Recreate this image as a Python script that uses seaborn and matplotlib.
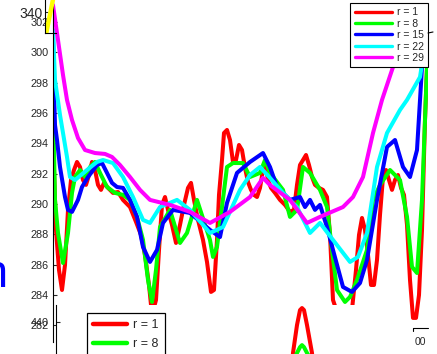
import matplotlib
matplotlib.use("Agg")
import matplotlib.pyplot as plt
import seaborn as sns
from matplotlib.lines import Line2D

sns.set_style("white")
plt.rcParams['font.family'] = ['Liberation Sans', 'DejaVu Sans']

# ---- profile data (position along scan, value) ----
labels = ["r = 1", "r = 8", "r = 15", "r = 22", "r = 29"]
colors = ["#ff0000", "#00ff00", "#0000ff", "#00ffff", "#ff00ff"]

r1_x = [0, 3, 6, 9, 12, 15, 18, 21, 24, 27, 30, 33, 36, 39, 42, 45, 48, 51, 55, 60,
        65, 70, 77, 83, 88, 92, 96, 99, 103, 106, 109, 112, 115, 119, 123, 127, 131, 135, 138, 141,
        145, 150, 154, 158, 161, 164, 166, 169, 171, 174, 177, 180, 183, 186, 189, 192, 195, 198, 201, 204,
        207, 210, 212, 215, 218, 222, 227, 232, 237, 241, 244, 247, 250, 253, 256, 259, 262, 266, 270, 274,
        277, 280, 285, 292, 299, 303, 306, 309, 312, 315, 318, 321, 324, 327, 330, 333, 336, 339, 342, 345,
        348, 351, 354, 357, 360, 363, 366, 369, 372, 375]
r1_y = [294.22, 288.29, 285.65, 284.33, 285.98, 289.61, 291.58, 292.24, 292.77, 292.44,
        291.58, 291.26, 291.91, 292.77, 292.24, 291.26, 290.93, 291.39, 291.06, 290.73,
        290.79, 290.27, 289.80, 288.82, 287.96, 286.64, 284.66, 282.69, 283.67, 286.97,
        289.94, 290.46, 289.61, 288.62, 287.43, 288.62, 289.94, 291.06, 291.39, 290.27,
        288.95, 287.63, 286.18, 284.20, 284.33, 287.63, 290.60, 292.90, 294.68, 294.88,
        294.22, 292.77, 292.90, 293.89, 293.56, 292.38, 291.45, 290.93, 290.60, 290.46,
        291.06, 292.24, 292.71, 291.58, 291.06, 290.73, 290.27, 289.94, 289.48, 289.61,
        291.26, 292.57, 292.90, 293.23, 292.57, 291.78, 291.26, 291.06, 290.93, 290.46,
        287.96, 283.67, 282.69, 282.36, 283.02, 285.65, 287.96, 289.08, 288.29, 286.64,
        284.66, 284.66, 286.31, 289.28, 291.78, 292.24, 291.58, 290.93, 291.58, 291.91,
        291.06, 290.60, 288.62, 284.99, 282.49, 282.49, 284.00, 288.29, 295.54, 300.81]

r8_x = [0, 1, 2, 5, 10, 15, 19, 22, 27, 32, 37, 42, 47, 54, 62, 70, 77, 84, 90, 95,
        99, 103, 107, 117, 127, 134, 144, 157, 160, 164, 174, 180, 190, 197, 207, 212, 217, 230, 237, 244,
        250, 257, 267, 274, 279, 284, 292, 297, 304, 314, 320, 327, 337, 347, 354, 359, 364, 369, 374, 375]
r8_y = [296.40, 293.56, 290.27, 288.09, 286.11, 288.09, 290.73, 291.78, 292.24, 291.78,
        292.44, 292.77, 292.05, 291.12, 290.73, 290.60, 290.27, 289.15, 287.63, 284.99,
        283.54, 285.65, 288.48, 289.61, 287.43, 288.09, 290.27, 287.63, 286.51, 287.17,
        292.44, 292.70, 292.70, 291.78, 292.05, 292.90, 292.05, 290.93, 289.15, 289.61,
        292.44, 292.05, 290.93, 289.80, 286.97, 284.33, 283.54, 283.87, 284.99, 286.97,
        290.27, 291.25, 292.24, 291.58, 289.15, 285.85, 285.45, 290.27, 299.03, 301.14]

r15_x = [0, 1, 2, 4, 7, 12, 15, 19, 25, 29, 35, 44, 49, 54, 59, 64, 70, 77, 84, 90,
         97, 104, 110, 120, 137, 157, 167, 174, 184, 197, 210, 217, 224, 237, 247, 252, 257, 262, 267, 274,
         280, 290, 299, 307, 314, 324, 334, 342, 350, 357, 364, 369, 374]
r15_y = [301.47, 297.52, 295.21, 294.22, 292.44, 290.46, 289.61, 289.48, 290.27, 291.12,
         291.78, 292.57, 292.70, 292.05, 291.39, 291.12, 291.06, 290.27, 289.15, 287.17,
         286.18, 286.97, 288.75, 289.61, 289.41, 288.29, 287.82, 290.07, 292.05, 292.77,
         293.36, 292.44, 291.12, 290.27, 290.46, 289.80, 290.27, 289.61, 289.94, 288.48,
         286.97, 284.53, 284.20, 284.79, 286.31, 290.27, 293.76, 294.22, 292.44, 291.78,
         293.56, 299.03, 301.67]

r22_x = [0, 2, 7, 9, 14, 17, 22, 34, 44, 50, 60, 70, 80, 90, 97, 107, 124, 137, 157, 170,
         187, 197, 207, 217, 230, 244, 257, 267, 280, 297, 305, 314, 324, 334, 347, 354, 367, 372]
r22_y = [301.47, 298.18, 295.87, 295.08, 293.10, 291.78, 291.58, 292.24, 292.77, 292.90,
         292.70, 291.78, 290.46, 288.95, 288.75, 289.80, 290.27, 289.61, 288.09, 288.48,
         290.93, 291.91, 292.44, 291.72, 290.73, 289.80, 288.09, 288.75, 287.63, 286.18,
         286.51, 288.09, 292.44, 294.68, 296.20, 296.86, 298.37, 300.48]

r29_x = [0, 5, 10, 14, 19, 25, 32, 42, 52, 59, 67, 77, 87, 97, 117, 137, 157, 177, 197, 210,
         217, 237, 254, 267, 290, 300, 310, 320, 329, 340, 357, 374]
r29_y = [303.12, 300.81, 298.51, 296.86, 295.54, 294.35, 293.56, 293.36, 293.30, 293.10,
         292.57, 291.78, 290.93, 290.27, 289.94, 289.48, 288.75, 289.48, 290.46, 291.72,
         291.25, 290.27, 288.75, 289.15, 289.80, 290.46, 291.78, 294.68, 296.86, 299.03,
         300.15, 301.27]

y_ticks = [282, 284, 286, 288, 290, 292, 294, 296, 298, 300, 302]

# lower panel: single peak for r = 1 and r = 8
peak_x = [236, 240, 244, 247, 249, 251, 254, 259, 263]
peak_r1 = [418.0, 430.9, 439.1, 443.5, 444.1, 443.5, 439.1, 430.9, 418.0]
peak_r8 = [424.0, 428.5, 430.9, 432.6, 433.2, 432.6, 430.9, 428.5, 424.0]
peak_ticks = [440]

# top-left inset
inset_x = [1.5, 8.5]
inset_y = [330.5, 347.5]
inset_ticks = [340]

W, H = 437, 354
fig = plt.figure(figsize=(W / 100, H / 100), dpi=100)


def px_axes(x0, y0, x1, y1, **kw):
    return fig.add_axes([x0 / W, 1 - y1 / H, (x1 - x0) / W, (y1 - y0) / H], **kw)


def strip(ax, keep=("left",)):
    for side in ("left", "right", "top", "bottom"):
        ax.spines[side].set_visible(side in keep)
        ax.spines[side].set_color("black")
        ax.spines[side].set_linewidth(0.8)


# ---- main panel ----
ax = px_axes(53, 0, 428, 342)
ax.set_zorder(1)
series = [(r1_x, r1_y), (r8_x, r8_y), (r15_x, r15_y), (r22_x, r22_y), (r29_x, r29_y)]
for (xs, ys), col, lab in zip(series, colors, labels):
    sns.lineplot(x=xs, y=ys, ax=ax, color=col, lw=2.9, sort=False,
                 estimator=None, legend=False)
ax.set_xlim(0, 375)
ax.set_ylim(280.9, 303.45)
ax.set_xticks([])
ax.set_yticks(y_ticks)
ax.set_yticklabels([str(t) for t in y_ticks])
ax.tick_params(axis="y", direction="in", length=3, width=0.8, labelsize=7.8, pad=3, left=True)
ax.set_xlabel("")
ax.set_ylabel("")
strip(ax, ("left",))
ax.set_facecolor("none")

handles = [Line2D([], [], color=c, lw=2.4) for c in colors]
leg = ax.legend(handles, labels, loc="upper right",
                bbox_to_anchor=(428 / W, 1 - 3 / H), bbox_transform=fig.transFigure,
                fontsize=7.5, frameon=True, fancybox=False, framealpha=1,
                edgecolor="black", handlelength=3.6, handletextpad=0.45,
                labelspacing=0.14, borderpad=0.4, borderaxespad=0)
leg.get_frame().set_linewidth(0.8)

# ---- lower panel ----
ax2 = px_axes(56, 305, 408, 458)
ax2.set_zorder(2)
ax2.set_facecolor("white")
sns.lineplot(x=peak_x, y=peak_r1, ax=ax2, color=colors[0], lw=2.9, sort=False,
             estimator=None, legend=False)
sns.lineplot(x=peak_x, y=peak_r8, ax=ax2, color=colors[1], lw=2.9, sort=False,
             estimator=None, legend=False)
ax2.set_xlim(3, 355)
ax2.set_ylim(400, 445)
ax2.set_xticks([])
ax2.set_yticks(peak_ticks)
ax2.set_yticklabels([str(t) for t in peak_ticks])
ax2.tick_params(axis="y", direction="in", length=3, width=0.8, labelsize=7.8, pad=5, left=True)
ax2.set_xlabel("")
ax2.set_ylabel("")
strip(ax2, ("left",))
h2 = [Line2D([], [], color=c, lw=3.2) for c in colors[:2]]
leg2 = ax2.legend(h2, labels[:2], loc="upper left",
                  bbox_to_anchor=(87 / W, 1 - 313 / H), bbox_transform=fig.transFigure,
                  fontsize=9, frameon=True, fancybox=False, framealpha=1,
                  edgecolor="black", handlelength=2.7, handletextpad=0.5,
                  labelspacing=0.55, borderpad=0.5, borderaxespad=0)
leg2.get_frame().set_linewidth(0.9)

# ---- top-left inset ----
ax3 = px_axes(45, 0, 56, 33)
ax3.set_zorder(3)
ax3.set_facecolor("none")
sns.lineplot(x=inset_x, y=inset_y, ax=ax3, color="#ffff00", lw=3.2, sort=False,
             estimator=None, legend=False)
ax3.set_xlim(0, 11)
ax3.set_ylim(330, 346)
ax3.set_xticks([])
ax3.set_yticks(inset_ticks)
ax3.set_yticklabels([str(t) for t in inset_ticks])
ax3.tick_params(axis="y", direction="in", length=2, width=0.8, labelsize=10, pad=2, left=True)
ax3.set_xlabel("")
ax3.set_ylabel("")
strip(ax3, ("left", "bottom"))

# ---- stray marks at the figure edges ----
fig.text(8 / W, 1 - 287 / H, "n", ha="right", va="baseline", fontsize=34, color="#0000ff")
fig.add_artist(Line2D([413 / W, 428 / W], [1 - 328 / H, 1 - 328 / H], color="black", lw=0.8))
fig.add_artist(Line2D([413 / W, 413 / W], [1 - 328 / H, 1 - 331 / H], color="black", lw=0.8))
fig.text(420 / W, 1 - 342 / H, "00", ha="center", va="center", fontsize=7.5)
fig.add_artist(Line2D([428 / W, 433 / W], [1 - 33 / H, 1 - 32 / H], color="black", lw=0.8))

fig.savefig("out.png", dpi=100)
